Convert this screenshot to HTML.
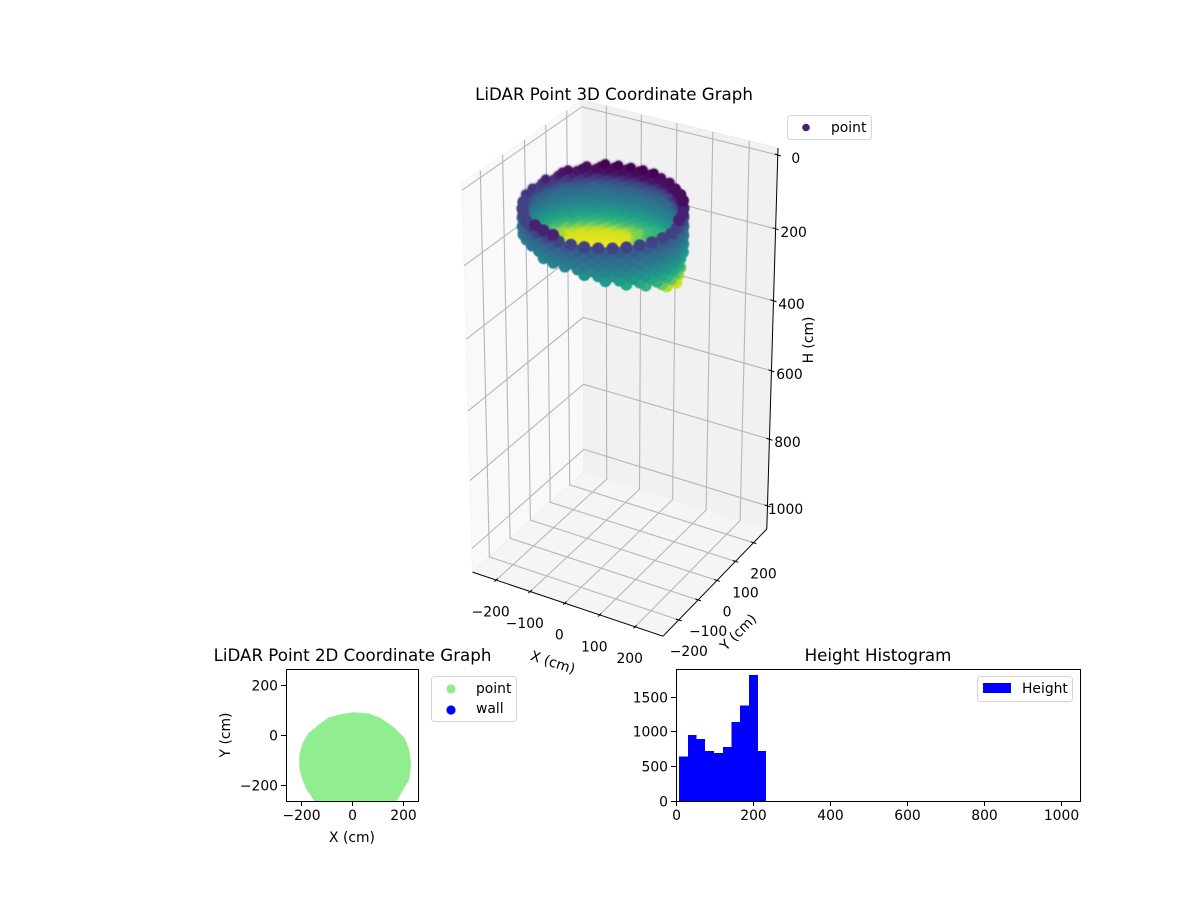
<!DOCTYPE html>
<html>
<head>
<meta charset="utf-8">
<title>LiDAR Point Graphs</title>
<style>
html,body{margin:0;padding:0;background:#fff;}
svg{display:block;}
text{font-family:"DejaVu Sans","Liberation Sans",sans-serif;fill:#000;}
</style>
</head>
<body>
<svg id="fig" xmlns="http://www.w3.org/2000/svg" width="1200" height="900" viewBox="0 0 1200 900">
  <defs>
    <clipPath id="clip2d"><rect x="286" y="669" width="132" height="132"/></clipPath>
    <filter id="softInner" x="-10%" y="-10%" width="120%" height="120%"><feGaussianBlur stdDeviation="1.2"/></filter>
    <filter id="softOuter" x="-10%" y="-10%" width="120%" height="120%"><feGaussianBlur stdDeviation="0.5"/></filter>
  </defs>
  <g id="g3d"></g>
  <g id="g2d"></g>
  <g id="ghist"></g>

  <text x="614" y="100" font-size="16.67" text-anchor="middle">LiDAR Point 3D Coordinate Graph</text>
  <text x="352.5" y="661" font-size="16.67" text-anchor="middle">LiDAR Point 2D Coordinate Graph</text>
  <text x="878" y="661" font-size="16.67" text-anchor="middle">Height Histogram</text>

  <g>
    <rect x="787.5" y="115.5" width="84" height="24" rx="3" fill="#fff" stroke="#d5d5d5"/>
    <circle cx="806" cy="127.5" r="3.8" fill="#481f70"/>
    <text x="831" y="132" font-size="13.89">point</text>
  </g>
  <g>
    <rect x="431.5" y="676.5" width="85" height="45" rx="3" fill="#fff" stroke="#d5d5d5"/>
    <circle cx="451" cy="689" r="4.6" fill="#90ee90"/>
    <text x="476" y="693" font-size="13.89">point</text>
    <circle cx="451" cy="710" r="4.6" fill="#0000ff"/>
    <text x="476" y="713" font-size="13.89">wall</text>
  </g>
  <g>
    <rect x="977.5" y="676.5" width="95" height="25" rx="3" fill="#fff" stroke="#d5d5d5"/>
    <rect x="983" y="683" width="28" height="10" fill="#0000ff"/>
    <text x="1022" y="693" font-size="13.89">Height</text>
  </g>
</svg>
<script>
// ---------- 3D chart data ----------
var xTicks3d = [-200, -100, 0, 100, 200];
var yTicks3d = [-200, -100, 0, 100, 200];
var zTicks3d = [0, 200, 400, 600, 800, 1000];
var sweepAngles  = [0,10,20,30,40,50,60,70,80,90,100,110,120,130,140,150,160,170,180,190,200,210,220,230,240,250,260,270,280,290,300,310,320,330,340,350];
var sweepFacing  = [1,1,1,1,1,1,0,0,0,0,0,0,0,0,0,0,0,0,0,1,1,1,1,1,1,1,1,1,1,1,1,1,1,1,1,1];
var sweepRadius  = [183,182,183,183,183,182,183,183,180,180,180,183,188,193,198,205,207,207,205,200,195,192,190,188,187,186,186,186,186,186,186,186,186,186,186,186];
var sweepTopH    = [27,22,16,12,10,8,5,3,0,0,0,0,0,6,12,18,22,26,28,28,28,28,28,25,18,14,22,28,30,32,32,30,30,30,30,30];
var sweepBottomH = [180,176,143,127,120,150,198,198,216,216,216,216,216,216,216,216,210,170,140,110,100,103,93,95,95,97,103,103,111,119,127,135,143,151,165,173];
var sweepPeakH   = [235,235,235,235,235,235,140,145,150,160,216,216,216,216,216,165,150,145,140,235,235,235,235,235,235,235,235,235,235,235,235,235,235,235,235,235];
var ringHeights  = [0,6,12,18,24,30,36,42,48,54,60,66,72,78,84,90,96,102,108,114,120,126,132,138,144,150,156,162,168,174,180,186,192,198,204,210,216];
var colorStopH   = [0,18,32,50,90,120,148,160,172,235];
var colorStopHex = ['#440154','#471365','#443a83','#34608d','#277f8e','#1f9a8a','#35b779','#7ad151','#d0e11c','#fde725'];
var rimDepth = 18;
var wallCenterX = 40;
var wallCenterY = -146;

// ---------- 2D chart data ----------
var xTicks2d = [-200, 0, 200];
var yTicks2d = [-200, 0, 200];
var footprintX = [-149,-181,-194,-207,-207,-194,-172,-132,-93,-47,5,64,110,162,208,225,233,225,208,182,173,170,-150];
var footprintY = [-265,-214,-181,-134,-80,-33,7,40,70,83,91,87,70,33,-13,-60,-114,-181,-208,-255,-268,-300,-300];

// ---------- Histogram data ----------
var histEdges  = [8,31,53,75,99,122,144,166,190,213,234];
var histCounts = [640,945,890,720,690,775,1135,1375,1810,720];
var histXTicks = [0,200,400,600,800,1000];
var histYTicks = [0,500,1000,1500];

// ---------- helpers ----------
var NS = 'http://www.w3.org/2000/svg';
function make(parent, tag, attrs, txt) {
  var el = document.createElementNS(NS, tag);
  for (var k in attrs) { el.setAttribute(k, attrs[k]); }
  if (txt !== undefined) { el.textContent = txt; }
  parent.appendChild(el);
  return el;
}
function fmt(v) { return String(v).replace('-', '\u2212'); }
function linear(d0, d1, r0, r1) { return function (v) { return r0 + (v - d0) * (r1 - r0) / (d1 - d0); }; }

// ---------- 3D projection ----------
var xMin = -270, xMax = 278, yMin = -280, yMax = 275, zMin = -18.6, zMax = 1070.5;
var cO = [582, 100], cX = [778, 148], cY = [462, 183], cZ = [584, 472];
var wX = 0.966, wY = 0.938, wZ = 1.07;
function p3(x, y, h) {
  var u = (x - xMin) / (xMax - xMin), v = (yMax - y) / (yMax - yMin), t = (h - zMin) / (zMax - zMin);
  var d = 1 + (wX - 1) * u + (wY - 1) * v + (wZ - 1) * t;
  return [
    (cO[0] + u * (wX * cX[0] - cO[0]) + v * (wY * cY[0] - cO[0]) + t * (wZ * cZ[0] - cO[0])) / d,
    (cO[1] + u * (wX * cX[1] - cO[1]) + v * (wY * cY[1] - cO[1]) + t * (wZ * cZ[1] - cO[1])) / d
  ];
}
function pts(list) { return list.map(function (p) { return p[0].toFixed(1) + ',' + p[1].toFixed(1); }).join(' '); }
function heightColor(h) {
  var i = 0;
  while (i < colorStopH.length - 2 && h > colorStopH[i + 1]) { i++; }
  var f = Math.max(0, Math.min(1, (h - colorStopH[i]) / (colorStopH[i + 1] - colorStopH[i])));
  var a = colorStopHex[i], b = colorStopHex[i + 1], out = [];
  for (var c = 0; c < 3; c++) {
    var s = parseInt(a.substr(1 + c * 2, 2), 16), e = parseInt(b.substr(1 + c * 2, 2), 16);
    out.push(Math.round(s + (e - s) * f));
  }
  return 'rgb(' + out.join(',') + ')';
}

// ---------- draw 3D ----------
var g3 = document.getElementById('g3d');
var pane;
pane = make(g3, 'polygon', {points: pts([p3(xMin,yMin,zMin), p3(xMin,yMax,zMin), p3(xMin,yMax,zMax), p3(xMin,yMin,zMax)]), fill: '#f9f9f9', stroke: '#f4f4f4'});


pane = make(g3, 'polygon', {points: pts([p3(xMin,yMax,zMin), p3(xMax,yMax,zMin), p3(xMax,yMax,zMax), p3(xMin,yMax,zMax)]), fill: '#f1f1f1', stroke: '#ececec'});


pane = make(g3, 'polygon', {points: pts([p3(xMin,yMin,zMax), p3(xMax,yMin,zMax), p3(xMax,yMax,zMax), p3(xMin,yMax,zMax)]), fill: '#f5f5f5', stroke: '#f0f0f0'});



xTicks3d.forEach(function (v) {
  var line = make(g3, 'polyline', {points: pts([p3(v,yMin,zMax), p3(v,yMax,zMax), p3(v,yMax,zMin)]), fill: 'none', stroke: '#b6b6b6', 'stroke-width': 1.1});
  
  
  var tick = make(g3, 'polyline', {points: pts([p3(v,yMin-8,zMax), p3(v,yMin+8,zMax)]), fill: 'none', stroke: '#000', 'stroke-width': 1});
  
  
  var b = p3(v, yMin + 3, zMax);
  var lab = make(g3, 'text', {x: b[0] - 6, y: b[1] + 37, 'font-size': 13.89, 'text-anchor': 'middle'}, fmt(v));
  
  
});
yTicks3d.forEach(function (v) {
  var line = make(g3, 'polyline', {points: pts([p3(xMax,v,zMax), p3(xMin,v,zMax), p3(xMin,v,zMin)]), fill: 'none', stroke: '#b6b6b6', 'stroke-width': 1.1});
  
  
  var tick = make(g3, 'polyline', {points: pts([p3(xMax+8,v,zMax), p3(xMax-8,v,zMax)]), fill: 'none', stroke: '#000', 'stroke-width': 1});
  
  
  var b = p3(xMax, v, zMax);
  var lab = make(g3, 'text', {x: b[0] + 10, y: b[1] + 36, 'font-size': 13.89, 'text-anchor': 'middle'}, fmt(v));
  
  
});
zTicks3d.forEach(function (v) {
  var line = make(g3, 'polyline', {points: pts([p3(xMin,yMin,v), p3(xMin,yMax,v), p3(xMax,yMax,v)]), fill: 'none', stroke: '#b6b6b6', 'stroke-width': 1.1});
  
  
  var b = p3(xMax, yMax, v);
  var tick = make(g3, 'line', {x1: b[0] - 3, y1: b[1] - 1, x2: b[0] + 3, y2: b[1] + 1, stroke: '#000', 'stroke-width': 1});
  
  
  var lab = make(g3, 'text', {x: b[0] + 18, y: b[1] + 8, 'font-size': 13.89, 'text-anchor': 'middle'}, fmt(v));
  
  
});
var axisLine;
axisLine = make(g3, 'polyline', {points: pts([p3(xMin,yMin,zMax), p3(xMax,yMin,zMax)]), fill: 'none', stroke: '#000', 'stroke-width': 1});


axisLine = make(g3, 'polyline', {points: pts([p3(xMax,yMin,zMax), p3(xMax,yMax,zMax)]), fill: 'none', stroke: '#000', 'stroke-width': 1});


axisLine = make(g3, 'polyline', {points: pts([p3(xMax,yMax,zMax), p3(xMax,yMax,zMin)]), fill: 'none', stroke: '#000', 'stroke-width': 1});



var axisTitle;
axisTitle = make(g3, 'text', {x: 553, y: 667, 'font-size': 13.89, 'text-anchor': 'middle', transform: 'rotate(18 553 662)'}, 'X (cm)');


axisTitle = make(g3, 'text', {x: 738, y: 637, 'font-size': 13.89, 'text-anchor': 'middle', transform: 'rotate(-45 738 632)'}, 'Y (cm)');


axisTitle = make(g3, 'text', {x: 808, y: 345, 'font-size': 13.89, 'text-anchor': 'middle', transform: 'rotate(-90 808 340)'}, 'H (cm)');



function drawDot(parent, si, ri, offsetDeg, radius) {
  var h = ringHeights[ri];
  if (h < sweepTopH[si] || h > sweepBottomH[si]) { return; }
  var a = (sweepAngles[si] + offsetDeg) * Math.PI / 180;
  var r = sweepRadius[si];
  var p = p3(wallCenterX + r * Math.cos(a), wallCenterY + r * Math.sin(a), h);
  var dot = make(parent, 'circle', {cx: p[0].toFixed(1), cy: p[1].toFixed(1), r: radius, fill: heightColor(Math.min(h, sweepPeakH[si]))});
  
  
}
// inner wall, seen through the opening
var innerGroup = make(g3, 'g', {filter: 'url(#softInner)'});


for (var ia = ringHeights.length - 1; ia >= 0; ia--) {
  sweepAngles.forEach(function (_, si) {
    if (sweepFacing[si] === 0) { drawDot(innerGroup, si, ia, (ia % 3) * 3.33, 4.5); }
  });
}
// crisp dark rim along the far side, then the outer wall nearest to the camera
var outerGroup = make(g3, 'g', {filter: 'url(#softOuter)'});


for (var ic = ringHeights.length - 1; ic >= 0; ic--) {
  sweepAngles.forEach(function (_, si) {
    if (sweepFacing[si] === 0 && ringHeights[ic] <= sweepTopH[si] + rimDepth) { drawDot(outerGroup, si, ic, (ic % 3) * 3.33, 4.5); }
  });
}
for (var ib = ringHeights.length - 1; ib >= 0; ib--) {
  if (ib % 2 !== 0) { continue; }
  sweepAngles.forEach(function (_, si) {
    if (sweepFacing[si] === 1) { drawDot(outerGroup, si, ib, (ib / 2) % 2 * 5, 6); }
  });
}

// ---------- draw 2D ----------
var g2 = document.getElementById('g2d');
var sx2 = linear(-259.4, 259.4, 286, 418);
var sy2 = linear(-265.3, 265.3, 801, 669);
var bg2 = make(g2, 'rect', {x: 286, y: 669, width: 132, height: 132, fill: '#fff'});


var area = make(g2, 'polygon', {
  points: footprintX.map(function (x, i) { return sx2(x).toFixed(1) + ',' + sy2(footprintY[i]).toFixed(1); }).join(' '),
  fill: '#90ee90', 'clip-path': 'url(#clip2d)'
});


var frame2 = make(g2, 'rect', {x: 286.5, y: 669.5, width: 132, height: 132, fill: 'none', stroke: '#000', 'stroke-width': 1});


xTicks2d.forEach(function (v) {
  var x = Math.round(sx2(v)) + 0.5;
  var t = make(g2, 'line', {x1: x, y1: 801, x2: x, y2: 806, stroke: '#000', 'stroke-width': 1});
  
  
  var l = make(g2, 'text', {x: x, y: 820, 'font-size': 13.89, 'text-anchor': 'middle'}, fmt(v));
  
  
});
yTicks2d.forEach(function (v) {
  var y = Math.round(sy2(v)) + 0.5;
  var t = make(g2, 'line', {x1: 281, y1: y, x2: 286, y2: y, stroke: '#000', 'stroke-width': 1});
  
  
  var l = make(g2, 'text', {x: 278, y: y + 5, 'font-size': 13.89, 'text-anchor': 'end'}, fmt(v));
  
  
});
var t2;
t2 = make(g2, 'text', {x: 352, y: 842, 'font-size': 13.89, 'text-anchor': 'middle'}, 'X (cm)');


t2 = make(g2, 'text', {x: 230, y: 735, 'font-size': 13.89, 'text-anchor': 'middle', transform: 'rotate(-90 230 735)'}, 'Y (cm)');



// ---------- draw histogram ----------
var gh = document.getElementById('ghist');
var sxh = linear(0, 1049, 676, 1080);
var syh = linear(0, 1896, 801, 669);
histCounts.forEach(function (c, i) {
  var x0 = sxh(histEdges[i]), x1 = sxh(histEdges[i + 1]);
  var bar = make(gh, 'rect', {x: x0.toFixed(2), y: syh(c).toFixed(2), width: (x1 - x0).toFixed(2), height: (801 - syh(c)).toFixed(2), fill: '#0000ff', 'shape-rendering': 'crispEdges'});
  
  
});
var frameH = make(gh, 'rect', {x: 676.5, y: 669.5, width: 404, height: 132, fill: 'none', stroke: '#000', 'stroke-width': 1});


histXTicks.forEach(function (v) {
  var x = Math.round(sxh(v)) + 0.5;
  var t = make(gh, 'line', {x1: x, y1: 801, x2: x, y2: 806, stroke: '#000', 'stroke-width': 1});
  
  
  var l = make(gh, 'text', {x: x, y: 820, 'font-size': 13.89, 'text-anchor': 'middle'}, fmt(v));
  
  
});
histYTicks.forEach(function (v) {
  var y = Math.round(syh(v)) + 0.5;
  var t = make(gh, 'line', {x1: 671, y1: y, x2: 676, y2: y, stroke: '#000', 'stroke-width': 1});
  
  
  var l = make(gh, 'text', {x: 668, y: y + 5, 'font-size': 13.89, 'text-anchor': 'end'}, fmt(v));
  
  
});
</script>
</body>
</html>
